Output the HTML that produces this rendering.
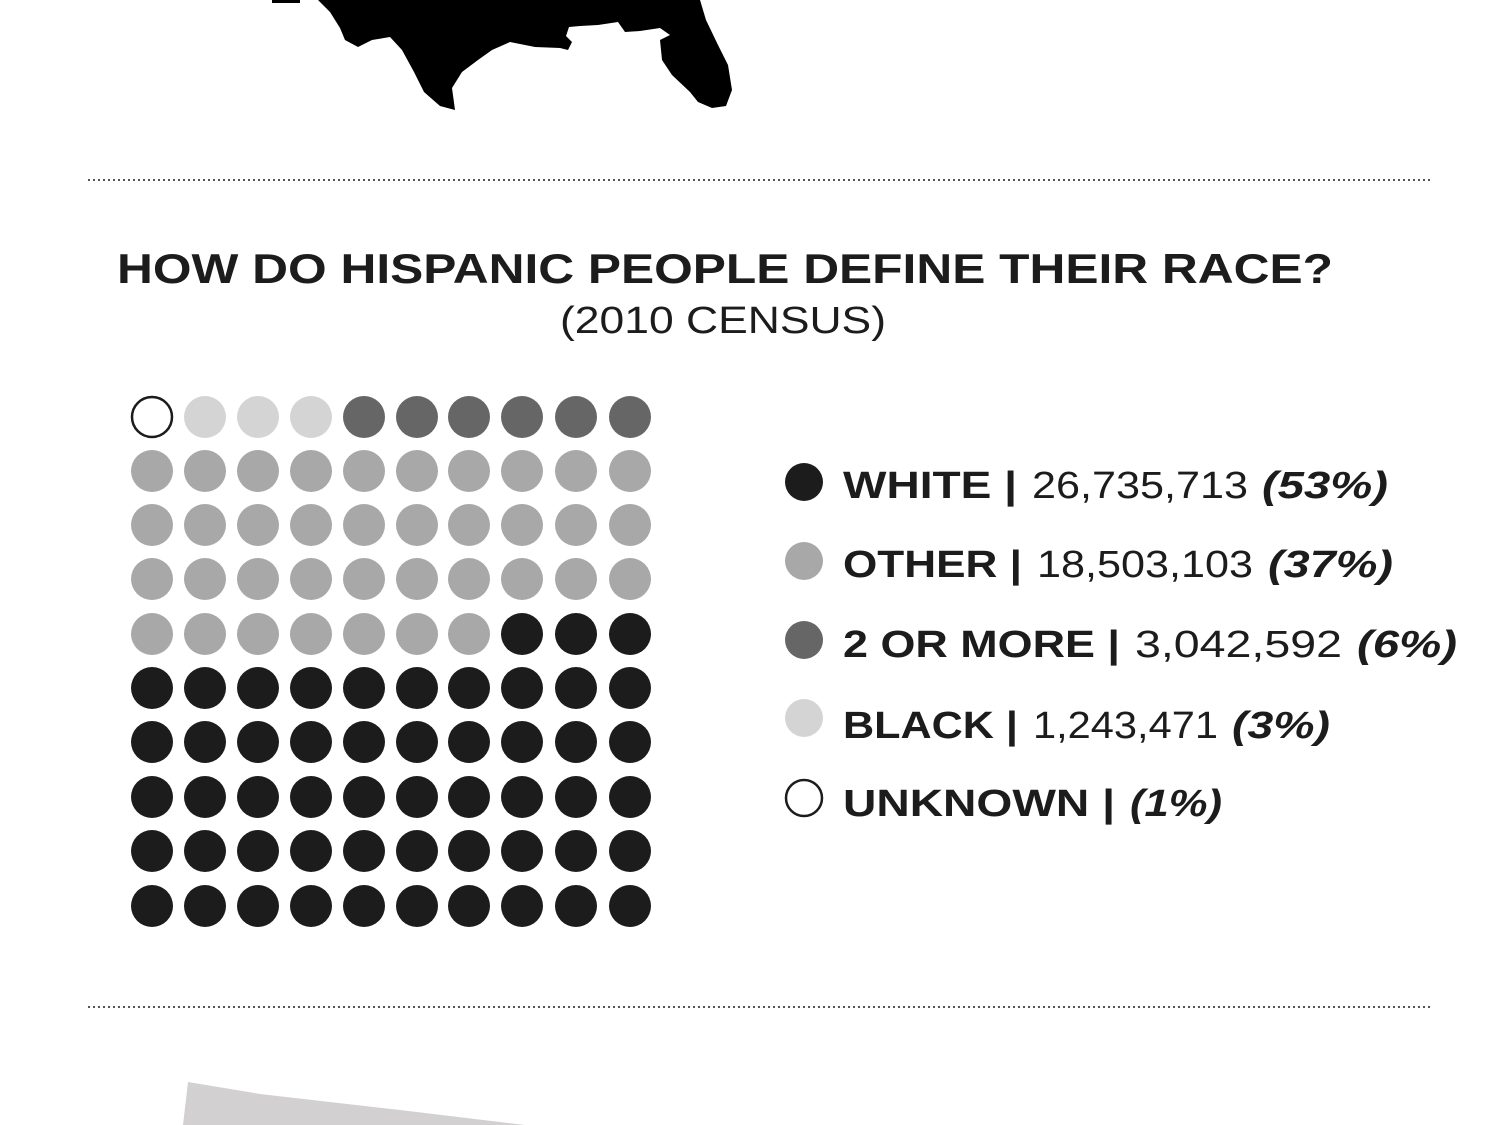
<!DOCTYPE html>
<html><head><meta charset="utf-8"><style>
html,body{margin:0;padding:0;background:#fff;}
svg{display:block;}
text{font-family:"Liberation Sans",Arial,sans-serif;fill:#1c1c1c;}
</style></head><body>
<svg width="1500" height="1125" viewBox="0 0 1500 1125">
<polygon fill="#000" points="272,0 300,0 300,3 272,3"/>
<polygon fill="#000" points="318,0 330,12 340,28 345,40 358,47 372,40 390,37 402,50 414,72 424,92 440,106 455,110 452,88 462,72 478,60 492,50 510,42 535,47 560,48 568,50 572,42 566,36 569,27 580,26 598,25 618,22 625,32 640,31 660,28 670,35 660,40 662,60 672,75 690,92 698,102 712,108 726,106 732,90 728,65 718,45 706,20 700,0"/>
<line x1="88" y1="180" x2="1430" y2="180" stroke="#555" stroke-width="2" stroke-dasharray="2,3"/>
<line x1="88" y1="1007" x2="1430" y2="1007" stroke="#555" stroke-width="2" stroke-dasharray="2,3"/>
<polygon fill="#d2d0d0" points="188,1082 260,1094 400,1110 525,1125 183,1125"/>
<text x="117" y="283" font-size="42" font-weight="bold" textLength="1216" lengthAdjust="spacingAndGlyphs">HOW DO HISPANIC PEOPLE DEFINE THEIR RACE?</text>
<text x="560" y="333" font-size="38" textLength="326" lengthAdjust="spacingAndGlyphs" fill="#333">(2010 CENSUS)</text>
<g id="dots"></g>
<circle cx="804" cy="482" r="19" fill="#1c1c1c"/>
<circle cx="804" cy="561" r="19" fill="#a8a8a8"/>
<circle cx="804" cy="640" r="19" fill="#666"/>
<circle cx="804" cy="718" r="19" fill="#d4d4d4"/>
<circle cx="804" cy="798" r="18" fill="#fff" stroke="#1c1c1c" stroke-width="2.5"/>
<g font-size="38">
<text x="843" y="498" font-weight="bold" textLength="174" lengthAdjust="spacingAndGlyphs">WHITE |</text>
<text x="1032" y="498" textLength="216" lengthAdjust="spacingAndGlyphs" fill="#333">26,735,713</text>
<text x="1262" y="498" font-weight="bold" font-style="italic" textLength="126" lengthAdjust="spacingAndGlyphs">(53%)</text>
<text x="843" y="577" font-weight="bold" textLength="179" lengthAdjust="spacingAndGlyphs">OTHER |</text>
<text x="1037" y="577" textLength="216" lengthAdjust="spacingAndGlyphs" fill="#333">18,503,103</text>
<text x="1268" y="577" font-weight="bold" font-style="italic" textLength="125" lengthAdjust="spacingAndGlyphs">(37%)</text>
<text x="843" y="657" font-weight="bold" textLength="277" lengthAdjust="spacingAndGlyphs">2 OR MORE |</text>
<text x="1135" y="657" textLength="207" lengthAdjust="spacingAndGlyphs" fill="#333">3,042,592</text>
<text x="1357" y="657" font-weight="bold" font-style="italic" textLength="100" lengthAdjust="spacingAndGlyphs">(6%)</text>
<text x="843" y="738" font-weight="bold" textLength="175" lengthAdjust="spacingAndGlyphs">BLACK |</text>
<text x="1033" y="738" textLength="185" lengthAdjust="spacingAndGlyphs" fill="#333">1,243,471</text>
<text x="1232" y="738" font-weight="bold" font-style="italic" textLength="98" lengthAdjust="spacingAndGlyphs">(3%)</text>
<text x="843" y="816" font-weight="bold" textLength="272" lengthAdjust="spacingAndGlyphs">UNKNOWN |</text>
<text x="1130" y="816" font-weight="bold" font-style="italic" textLength="92" lengthAdjust="spacingAndGlyphs">(1%)</text>
</g>
<g>
<circle cx="152" cy="417" r="20" fill="#fff" stroke="#1c1c1c" stroke-width="2.5"/>
<g fill="#d4d4d4"><circle cx="205" cy="417" r="21"/><circle cx="258" cy="417" r="21"/><circle cx="311" cy="417" r="21"/></g>
<g fill="#666"><circle cx="364" cy="417" r="21"/><circle cx="417" cy="417" r="21"/><circle cx="469" cy="417" r="21"/><circle cx="522" cy="417" r="21"/><circle cx="576" cy="417" r="21"/><circle cx="630" cy="417" r="21"/></g>
</g>
<g fill="#a8a8a8">
<g id="r1"><circle cx="152" cy="471" r="21"/><circle cx="205" cy="471" r="21"/><circle cx="258" cy="471" r="21"/><circle cx="311" cy="471" r="21"/><circle cx="364" cy="471" r="21"/><circle cx="417" cy="471" r="21"/><circle cx="469" cy="471" r="21"/><circle cx="522" cy="471" r="21"/><circle cx="576" cy="471" r="21"/><circle cx="630" cy="471" r="21"/></g>
<use href="#r1" y="54"/><use href="#r1" y="108"/>
<circle cx="152" cy="634" r="21"/><circle cx="205" cy="634" r="21"/><circle cx="258" cy="634" r="21"/><circle cx="311" cy="634" r="21"/><circle cx="364" cy="634" r="21"/><circle cx="417" cy="634" r="21"/><circle cx="469" cy="634" r="21"/>
</g>
<g fill="#1c1c1c">
<circle cx="522" cy="634" r="21"/><circle cx="576" cy="634" r="21"/><circle cx="630" cy="634" r="21"/>
<g id="r5"><circle cx="152" cy="688" r="21"/><circle cx="205" cy="688" r="21"/><circle cx="258" cy="688" r="21"/><circle cx="311" cy="688" r="21"/><circle cx="364" cy="688" r="21"/><circle cx="417" cy="688" r="21"/><circle cx="469" cy="688" r="21"/><circle cx="522" cy="688" r="21"/><circle cx="576" cy="688" r="21"/><circle cx="630" cy="688" r="21"/></g>
<use href="#r5" y="54"/><use href="#r5" y="109"/><use href="#r5" y="163"/><use href="#r5" y="218"/>
</g>
</svg>
</body></html>
